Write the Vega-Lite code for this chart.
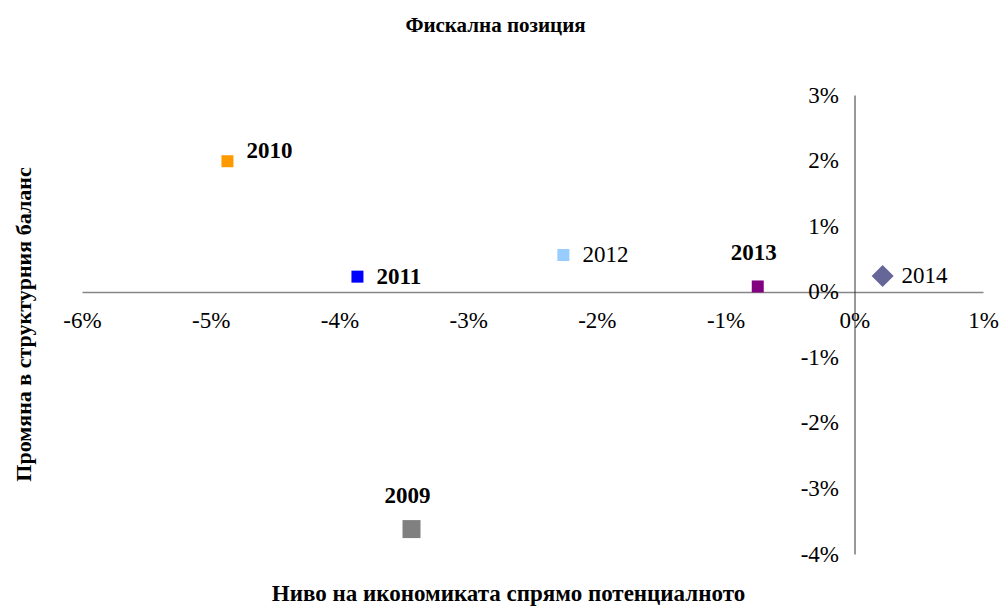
{
  "$schema": "https://vega.github.io/schema/vega-lite/v6.json",
  "width": 901,
  "height": 459,
  "autosize": "none",
  "padding": {"left": 82, "top": 95, "right": 19, "bottom": 54},
  "background": "white",
  "config": {"view": {"stroke": null}, "font": "Liberation Serif"},
  "title": {
    "text": "Фискална позиция",
    "font": "Liberation Serif",
    "fontSize": 21,
    "fontWeight": "bold",
    "color": "black",
    "frame": "group",
    "anchor": "middle",
    "baseline": "alphabetic",
    "offset": 31,
    "dx": -37
  },
  "data": {
    "values": [
      {"year": "2009", "x": -0.0344, "y": -0.0362},
      {"year": "2010", "x": -0.0487, "y": 0.0199},
      {"year": "2011", "x": -0.0386, "y": 0.0023},
      {"year": "2012", "x": -0.0226, "y": 0.0056},
      {"year": "2013", "x": -0.0075, "y": 0.0008},
      {"year": "2014", "x": 0.0022, "y": 0.0024}
    ]
  },
  "encoding": {
    "x": {
      "field": "x", "type": "quantitative",
      "scale": {"domain": [-0.06, 0.01], "nice": false, "zero": false},
      "axis": {
        "values": [-0.06, -0.05, -0.04, -0.03, -0.02, -0.01, 0, 0.01],
        "format": ".0%",
        "labelExpr": "replace(datum.label, '−', '-')",
        "offset": -262,
        "grid": false, "ticks": false, "tickSize": 0,
        "domainColor": "#868686", "domainWidth": 1.5,
        "labelFont": "Liberation Serif", "labelFontSize": 23, "labelColor": "black",
        "labelPadding": 17, "labelFlush": false, "labelOverlap": false,
        "title": "Ниво на икономиката спрямо потенциалното",
        "titleFont": "Liberation Serif", "titleFontSize": 23, "titleFontWeight": "bold",
        "titleColor": "black", "titleBaseline": "alphabetic", "titleAlign": "center",
        "titleX": 426, "titleY": 308
      }
    },
    "y": {
      "field": "y", "type": "quantitative",
      "scale": {"domain": [-0.04, 0.03], "nice": false, "zero": false},
      "axis": {
        "values": [-0.04, -0.03, -0.02, -0.01, 0, 0.01, 0.02, 0.03],
        "format": ".0%",
        "labelExpr": "replace(datum.label, '−', '-')",
        "offset": -772.5,
        "grid": false, "ticks": false, "tickSize": 0,
        "domainColor": "#333333", "domainWidth": 1,
        "labelFont": "Liberation Serif", "labelFontSize": 23, "labelColor": "black",
        "labelPadding": 16, "labelFlush": false, "labelOverlap": false,
        "title": "Промяна в структурния баланс",
        "titleFont": "Liberation Serif", "titleFontSize": 22, "titleFontWeight": "bold",
        "titleColor": "black", "titleBaseline": "middle", "titleAngle": 270,
        "titleX": -831, "titleY": 229
      }
    }
  },
  "layer": [
    {
      "transform": [{"filter": {"field": "year", "oneOf": ["2010", "2011", "2012", "2013"]}}],
      "mark": {"type": "point", "filled": true, "opacity": 1, "strokeWidth": 0, "shape": "square", "size": 144},
      "encoding": {
        "color": {
          "field": "year", "type": "nominal", "legend": null,
          "scale": {"domain": ["2010", "2011", "2012", "2013"],
                    "range": ["#FF9900", "#0000FF", "#99CCFF", "#800080"]}
        }
      }
    },
    {
      "transform": [{"filter": {"field": "year", "oneOf": ["2009"]}}],
      "mark": {"type": "point", "filled": true, "opacity": 1, "strokeWidth": 0, "shape": "square", "size": 324, "color": "#808080"},
      "encoding": {}
    },
    {
      "transform": [{"filter": {"field": "year", "oneOf": ["2014"]}}],
      "mark": {"type": "point", "filled": true, "opacity": 1, "strokeWidth": 0, "shape": "M-1,0L0,-1L1,0L0,1Z", "size": 484, "color": "#666699"},
      "encoding": {}
    },
    {
      "transform": [{"filter": {"field": "year", "oneOf": ["2012", "2014"]}}],
      "mark": {"type": "text", "align": "left", "baseline": "middle", "dx": 19, "font": "Liberation Serif", "fontSize": 23, "color": "black"},
      "encoding": {"text": {"field": "year"}}
    },
    {
      "transform": [{"filter": {"field": "year", "oneOf": ["2011"]}}],
      "mark": {"type": "text", "align": "left", "baseline": "middle", "dx": 19, "font": "Liberation Serif", "fontSize": 23, "fontWeight": "bold", "color": "black"},
      "encoding": {"text": {"field": "year"}}
    },
    {
      "transform": [{"filter": {"field": "year", "oneOf": ["2010"]}}],
      "mark": {"type": "text", "align": "left", "baseline": "middle", "dx": 19, "dy": -10, "font": "Liberation Serif", "fontSize": 23, "fontWeight": "bold", "color": "black"},
      "encoding": {"text": {"field": "year"}}
    },
    {
      "transform": [{"filter": {"field": "year", "oneOf": ["2009", "2013"]}}],
      "mark": {"type": "text", "align": "center", "baseline": "alphabetic", "dx": -4, "dy": -26, "font": "Liberation Serif", "fontSize": 23, "fontWeight": "bold", "color": "black"},
      "encoding": {"text": {"field": "year"}}
    }
  ]
}
